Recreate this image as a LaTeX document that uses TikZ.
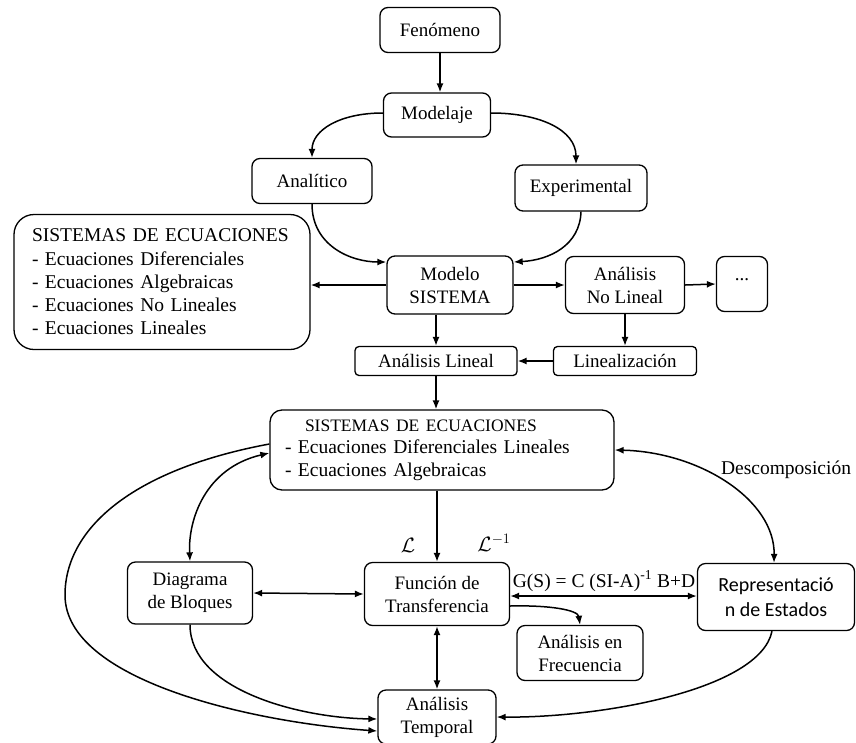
\documentclass[tikz,border=0pt]{standalone}
\usepackage{fontspec}
\setmainfont{Liberation Serif}
\newfontfamily\calfont{Carlito}
\usetikzlibrary{arrows.meta}
\begin{document}
\begin{tikzpicture}[x=1pt,y=-1pt,
 box/.style={draw,line width=1.3pt,rounded corners=8pt,align=center,inner sep=2pt,font=\rmfamily\fontsize{19}{23}\selectfont},
 lbl/.style={inner sep=1pt,font=\rmfamily\fontsize{19.5}{22}\selectfont},
 arr/.style={line width=1.5pt,-{Latex[length=9pt,width=7pt]}},
 darr/.style={line width=1.5pt,{Latex[length=9pt,width=7pt]}-{Latex[length=9pt,width=7pt]}}]
\useasboundingbox (0,0) rectangle (856,742);
\fill[white] (0,0) rectangle (856,742);
% nodes
\node[box,minimum width=120pt,minimum height=45pt] (fen) at (440,30) {Fenómeno};
\node[box,minimum width=107pt,minimum height=44pt] (mod) at (437,115) {Modelaje};
\node[box,minimum width=120pt,minimum height=45pt] (ana) at (312,181) {Analítico};
\node[box,minimum width=132pt,minimum height=46pt] (exp) at (581,188) {Experimental};
\node[box,rounded corners=20pt,align=left,inner xsep=18pt,text width=260pt,minimum height=135pt,font=\rmfamily\fontsize{19.5}{23.3}\selectfont] (sisL) at (162,282)
  {SISTEMAS DE ECUACIONES\\- Ecuaciones Diferenciales\\- Ecuaciones Algebraicas\\- Ecuaciones No Lineales\\- Ecuaciones Lineales};
\node[box,minimum width=126pt,minimum height=58pt] (ms) at (450,285) {Modelo\\SISTEMA};
\node[box,minimum width=119pt,minimum height=57pt] (anl) at (625,285) {Análisis\\No Lineal};
\node[box,minimum width=51pt,minimum height=55pt] (dots) at (742,284) {\raisebox{8pt}{...}};
\node[box,rounded corners=4pt,minimum width=162pt,minimum height=29pt] (al) at (436,361) {Análisis Lineal};
\node[box,rounded corners=4pt,minimum width=143pt,minimum height=29pt] (lin) at (625,361) {Linealización};
\node[box,rounded corners=12pt,align=left,inner xsep=15pt,text width=314pt,minimum height=80pt,font=\rmfamily\fontsize{19.5}{22.5}\selectfont] (sis2) at (442,450)
  {\hspace*{20pt}{\fontsize{17.5}{22}\selectfont SISTEMAS DE ECUACIONES}\\- Ecuaciones Diferenciales Lineales\\- Ecuaciones Algebraicas};
\node[box,minimum width=125pt,minimum height=62pt] (db) at (190,593) {Diagrama\\de Bloques};
\node[box,minimum width=145pt,minimum height=63pt] (ft) at (437,594) {Función de\\Transferencia};
\node[box,minimum width=157pt,minimum height=67pt,font=\calfont\fontsize{20}{25}\selectfont] (rep) at (776,597) {Representació\\n de Estados};
\node[box,minimum width=126pt,minimum height=55pt] (freq) at (580,653) {Análisis en\\Frecuencia};
\node[box,minimum width=118pt,minimum height=54pt] (at) at (437,717) {Análisis\\Temporal};
% labels
\node[lbl,font=\fontsize{22}{24}\selectfont] (L1) at (408,545) {$\mathcal{L}$};
\node[lbl,font=\fontsize{22}{24}\selectfont] (L2) at (494,543) {$\mathcal{L}^{-1}$};
\node[lbl] (gs) at (604,581) {G(S) = C (SI-A)\textsuperscript{-1} B+D};
\node[lbl] (dec) at (786,470) {Descomposición};
% connectors
\draw[arr] (fen.south) -- (fen.south |- mod.north);
\draw[arr] ([yshift=2pt]mod.west) .. controls (340,113) and (312,130) .. (ana.north);
\draw[arr] ([yshift=2pt]mod.east) .. controls (540,113) and (576,130) .. ([xshift=-5pt]exp.north);
\draw[arr] (ana.south) .. controls (312,245) and (350,262) .. ([yshift=23pt]ms.west);
\draw[arr] (exp.south) .. controls (580,245) and (550,260) .. ([yshift=23pt]ms.east);
\draw[arr] (ms.west) -- (ms.west -| sisL.east);
\draw[arr] (ms.east) -- (anl.west);
\draw[arr] (anl.east) -- (dots.west);
\draw[arr] (al.north |- ms.south) -- (al.north);
\draw[arr] (anl.south) -- (lin.north);
\draw[arr] (lin.west) -- (al.east);
\draw[arr] (al.south) -- (al.south |- sis2.north);
\draw[arr] (ft.north |- sis2.south) -- (ft.north);
\draw[darr] ([yshift=-3pt]sis2.west) .. controls (205,468) and (188,520) .. (db.north);
\draw[arr] ([yshift=6pt]sis2.west) .. controls (130,470) and (65,530) .. (65,595) .. controls (65,680) and (250,722) .. ([yshift=-14pt]at.west);
\draw[arr] (db.south) .. controls (190,690) and (300,718) .. ([yshift=-2pt]at.west);
\draw[darr] (db.east) -- (ft.west);
\draw[darr] ([yshift=-2pt]ft.east) -- ([yshift=-2pt]ft.east -| rep.west);
\draw[arr] ([yshift=-12pt]ft.east) .. controls (550,605) and (578,610) .. (freq.north);
\draw[darr] (ft.south) -- (at.north);
\draw[arr] ([xshift=-4pt]rep.south) .. controls (760,690) and (600,718) .. (at.east);
\draw[darr] (sis2.east) .. controls (700,452) and (775,500) .. ([xshift=-2pt]rep.north);
\end{tikzpicture}
\end{document}
